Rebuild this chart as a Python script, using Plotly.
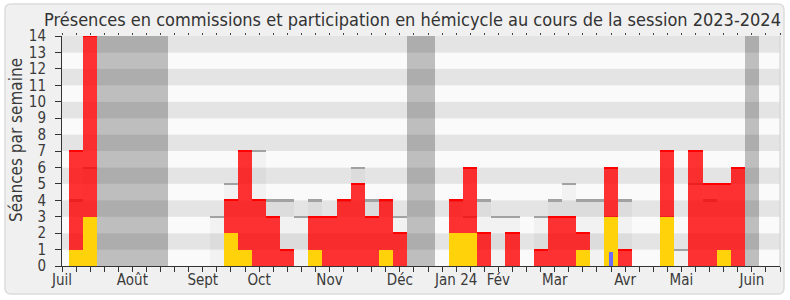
import plotly.graph_objects as go

# ---- data ----
weeks = list(range(1, 51))
hemicycle = [7, 14, 0, 0, 0, 0, 0, 0, 0, 0,
             0, 4, 7, 4, 3, 1, 0, 3, 3, 4,
             5, 3, 4, 2, 0, 0, 0, 4, 6, 2,
             0, 2, 0, 1, 3, 3, 2, 0, 6, 1,
             0, 0, 7, 0, 7, 5, 5, 6, 0, 0]
commission = [1, 3, 0, 0, 0, 0, 0, 0, 0, 0,
              0, 2, 1, 0, 0, 0, 0, 1, 0, 0,
              0, 0, 1, 0, 0, 0, 0, 2, 2, 0,
              0, 0, 0, 0, 0, 0, 1, 0, 3, 0,
              0, 0, 3, 0, 0, 0, 1, 0, 0, 0]
mediane = [4, 6, 0, 0, 0, 0, 0, 0, 0, 0,
           3, 5, 7, 7, 4, 4, 3, 4, 3, 4,
           6, 4, 4, 3, 0, 0, 0, 4, 3, 4,
           3, 3, 0, 3, 4, 5, 4, 4, 3, 4,
           0, 0, 3, 1, 5, 4, 5, 6, 0, 0]
question_weeks = [39]
question_values = [0.83]
vacances = [3, 4, 5, 6, 7, 25, 26, 49]
month_labels = ["Juil", "Août", "Sept", "Oct", "Nov", "Déc", "Jan 24", "Fév", "Mar", "Avr", "Mai", "Juin"]
month_pos = [0, 5, 10, 14, 19, 24, 28, 31, 35, 40, 44, 49]
n_ticks = 51
y_max = 14

FONT = "DejaVu Sans Condensed, DejaVu Sans, sans-serif"
TXT = "#3a3a3a"

W, H = 790, 300
ML, MR, MT, MB = 62, 10, 36, 34
PW, PH = W - ML - MR, H - MT - MB
UNIT_PX = PH / y_max


def px(x):
    return (x - ML) / PW


def py(y):
    return (H - MB - y) / PH


def edge_bar(vals, color, thick_px):
    """thin bar drawn along the top edge of each non-zero value"""
    t = thick_px / UNIT_PX
    xs = [w for w, v in zip(weeks, vals) if v > 0]
    bases = [v - t / 2 for v in vals if v > 0]
    return go.Bar(x=xs, y=[t] * len(xs), base=bases, width=1,
                  marker=dict(color=color, line=dict(width=0)),
                  hoverinfo="skip", showlegend=False)


fig = go.Figure()

# vacation bands
fig.add_trace(go.Bar(x=vacances, y=[y_max] * len(vacances), width=1,
                     marker=dict(color="rgba(0,0,0,0.24)", line=dict(width=0)),
                     hoverinfo="skip", showlegend=False))
# median presence
fig.add_trace(go.Bar(x=weeks, y=mediane, width=1,
                     marker=dict(color="rgba(0,0,0,0.03)", line=dict(width=0)),
                     hoverinfo="skip", showlegend=False))
fig.add_trace(edge_bar(mediane, "#a2a2a2", 1.6))
# hemicycle
fig.add_trace(go.Bar(x=weeks, y=hemicycle, width=1,
                     marker=dict(color="rgba(255,0,0,0.8)", line=dict(width=0)),
                     showlegend=False))
# commission
fig.add_trace(go.Bar(x=weeks, y=commission, width=1,
                     marker=dict(color="#ffd20a", line=dict(width=0)),
                     showlegend=False))
fig.add_trace(edge_bar(hemicycle, "#ff0000", 1.2))
# questions (on overlay axis, which also gives the top dotted ticks)
fig.add_trace(go.Bar(x=question_weeks, y=question_values, width=0.28, xaxis="x2",
                     marker=dict(color="#6b6bff", line=dict(width=0)),
                     showlegend=False))

shapes = []
# outer rounded frame
x0, x1, y0, y1, r = 5, 784, 4, 294, 6
path = (f"M {px(x0 + r)},{py(y0)} L {px(x1 - r)},{py(y0)} "
        f"Q {px(x1)},{py(y0)} {px(x1)},{py(y0 + r)} L {px(x1)},{py(y1 - r)} "
        f"Q {px(x1)},{py(y1)} {px(x1 - r)},{py(y1)} L {px(x0 + r)},{py(y1)} "
        f"Q {px(x0)},{py(y1)} {px(x0)},{py(y1 - r)} L {px(x0)},{py(y0 + r)} "
        f"Q {px(x0)},{py(y0)} {px(x0 + r)},{py(y0)} Z")
shapes.append(dict(type="path", path=path, xref="paper", yref="paper",
                   fillcolor="#f0f0f0", line=dict(color="#dcdcdc", width=1.5), layer="below"))
# horizontal stripes
for k in range(y_max):
    shapes.append(dict(type="rect", xref="x", yref="y", x0=0, x1=n_ticks, y0=k, y1=k + 1,
                       fillcolor="#e4e4e4" if k % 2 else "#fafafa", line=dict(width=0), layer="below"))
# right border
shapes.append(dict(type="line", xref="paper", yref="paper", x0=1, x1=1, y0=0, y1=1,
                   line=dict(color="#cfcfcf", width=1), layer="above"))

tickvals = list(range(0, n_ticks + 1))
ticktext = [month_labels[month_pos.index(t)] if t in month_pos else "" for t in tickvals]

fig.update_layout(
    width=W, height=H,
    margin=dict(l=ML, r=MR, t=MT, b=MB),
    paper_bgcolor="white", plot_bgcolor="rgba(0,0,0,0)",
    barmode="overlay", bargap=0,
    shapes=shapes,
    font=dict(family=FONT, color=TXT),
    title=dict(text="Présences en commissions et participation en hémicycle au cours de la session 2023-2024",
               x=412.5 / W, xanchor="center", xref="container",
               y=1 - 20 / H, yanchor="middle", yref="container",
               font=dict(family=FONT, size=18, color="#333")),
    xaxis=dict(range=[0, n_ticks], tickmode="array", tickvals=tickvals, ticktext=ticktext,
               ticks="outside", ticklen=5, tickwidth=1, tickcolor="#333",
               showline=True, linecolor="#333", linewidth=1, showgrid=False, zeroline=False,
               tickfont=dict(family=FONT, size=15, color=TXT), tickangle=0,
               ticklabelstandoff=-5, fixedrange=True),
    xaxis2=dict(range=[0, n_ticks], overlaying="x", side="top", anchor="y",
                tickmode="array", tickvals=tickvals, showticklabels=False,
                ticks="outside", ticklen=2, tickwidth=1, tickcolor="#444",
                showline=False, showgrid=False, zeroline=False),
    yaxis=dict(range=[0, y_max], tickmode="linear", tick0=0, dtick=1,
               ticks="outside", ticklen=6, tickwidth=1, tickcolor="#333",
               showline=True, linecolor="#333", linewidth=1, showgrid=False, zeroline=False,
               tickfont=dict(family=FONT, size=15, color=TXT), ticklabelstandoff=6),
    annotations=[dict(text="Séances par semaine", textangle=-90, xref="paper", yref="paper",
                      x=px(16), y=py(140), xanchor="center", yanchor="middle", showarrow=False,
                      font=dict(family=FONT, size=17, color=TXT))],
)

fig.write_html("out.html")
